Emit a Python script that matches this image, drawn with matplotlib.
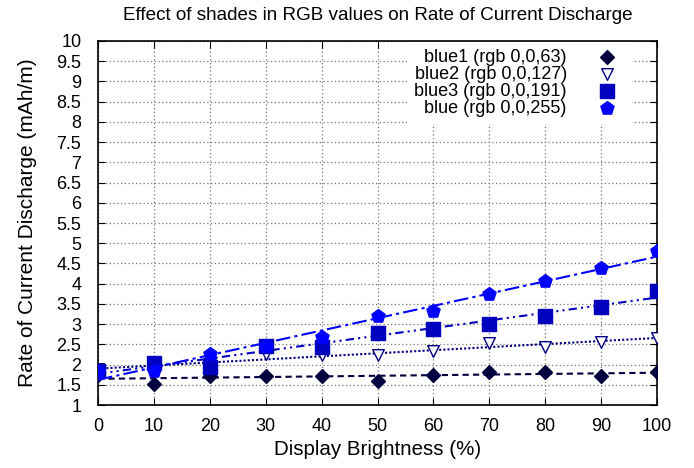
import numpy as np
import matplotlib
matplotlib.use("Agg")
import matplotlib.pyplot as plt

plt.rcParams['font.family'] = ['Liberation Sans', 'DejaVu Sans']

brightness = [0, 10, 20, 30, 40, 50, 60, 70, 80, 90, 100]
blue1 = [1.75, 1.52, 1.72, 1.72, 1.72, 1.60, 1.74, 1.82, 1.82, 1.72, 1.82]
blue2 = [1.90, 1.90, 2.02, 2.25, 2.23, 2.24, 2.34, 2.54, 2.44, 2.56, 2.65]
blue3 = [1.85, 2.05, 1.94, 2.45, 2.44, 2.78, 2.89, 3.01, 3.20, 3.42, 3.83]
blue = [1.85, 1.85, 2.26, 2.45, 2.69, 3.20, 3.33, 3.74, 4.06, 4.38, 4.80]

labels = ["blue1 (rgb 0,0,63)", "blue2 (rgb 0,0,127)",
          "blue3 (rgb 0,0,191)", "blue (rgb 0,0,255)"]
colors = ["#00003f", "#00007f", "#0000bf", "#0000ff"]
markers = ["D", "v", "s", "p"]
yticks = np.arange(1, 10.01, 0.5)
xticks = np.arange(0, 101, 10)

fig = plt.figure(figsize=(6.94, 4.68), dpi=100)
ax = fig.add_axes([0.1412, 0.1346, 0.8055, 0.7778])

x = np.array(brightness, dtype=float)
xs = np.linspace(0, 100, 200)
dashes = [(0, (3, 2)), (0, (1, 1)), (0, (4, 2, 1, 2, 1, 2)), (0, (7, 2, 1.5, 2))]
sizes = {"D": 50, "v": 70, "s": 90, "p": 100}
handles = []
for i, (ys, c, m) in enumerate(zip([blue1, blue2, blue3, blue], colors, markers)):
    y = np.array(ys)
    p = np.polyfit(x, y, 1)
    yf = np.polyval(p, xs)
    ax.plot(xs, yf, color=c, lw=1.5, linestyle=dashes[i], zorder=2 + i)
    if m == "v":
        h = ax.scatter(x, y, marker=m, s=sizes[m], facecolors='white', edgecolors=c,
                       linewidths=1.0, zorder=3 + i, label=labels[i])
    else:
        h = ax.scatter(x, y, marker=m, s=sizes[m], color=c, zorder=3 + i,
                       label=labels[i])
    handles.append(h)

ax.set_xlim(0, 100)
ax.set_ylim(1, 10)
ax.set_xticks(xticks)
ax.set_yticks(yticks)
ax.set_yticklabels([("%g" % v) for v in yticks])
ax.tick_params(direction='in', top=True, right=True, length=5, width=0.8,
               labelsize=13, colors='black')
ax.tick_params(axis='x', pad=9)
ax.tick_params(axis='y', pad=12)
ax.grid(True, color='#777777', linestyle=(0, (1, 2)), linewidth=0.9)
for s in ax.spines.values():
    s.set_linewidth(1.2)

ax.set_xlabel("Display Brightness (%)", fontsize=14.8, labelpad=4)
ax.set_ylabel("Rate of Current Discharge (mAh/m)", fontsize=15, labelpad=14)
ax.set_title("Effect of shades in RGB values on Rate of Current Discharge",
             fontsize=13.6, pad=15)

leg = ax.legend(handles=handles, loc='upper right', frameon=True, fontsize=13,
                markerfirst=False, handletextpad=1.2, handlelength=2,
                borderpad=0.4, borderaxespad=0, labelspacing=0.0,
                bbox_to_anchor=(0.955, 0.998),
                fancybox=False, framealpha=1.0)
leg.get_frame().set_edgecolor('white')
leg.get_frame().set_linewidth(0)
for t in leg.get_texts():
    t.set_ha('right')
leg.set_zorder(10)

fig.savefig("out.png", dpi=100)
